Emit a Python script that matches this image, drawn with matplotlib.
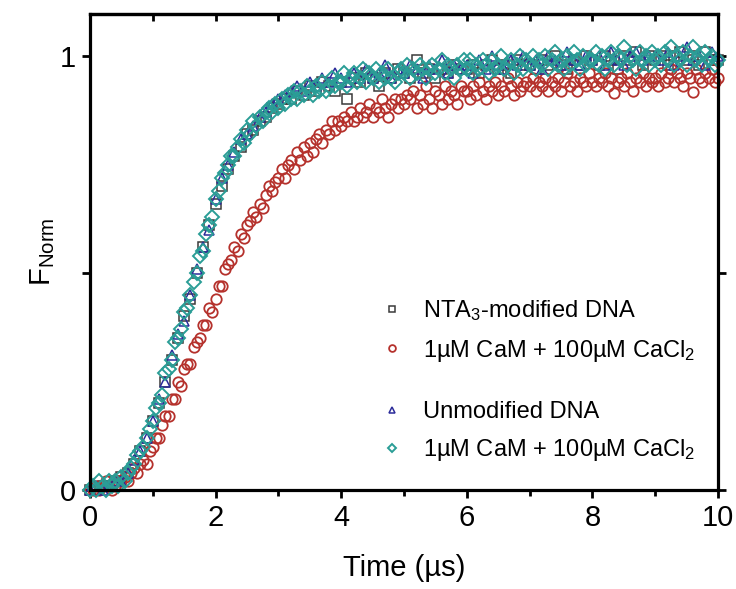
import numpy as np
import matplotlib
matplotlib.use('Agg')
import matplotlib.pyplot as plt

plt.rcParams['font.family'] = ['Liberation Sans', 'DejaVu Sans']
plt.rcParams['mathtext.fontset'] = 'custom'
plt.rcParams['mathtext.rm'] = 'Liberation Sans'
plt.rcParams['mathtext.it'] = 'Liberation Sans:italic'

# time axes (us), sampled every 0.05 / 0.1 us
t_fine = np.linspace(0, 10, 201)
t_coarse = np.linspace(0, 10, 101)

# NTA3-modified DNA + CaM (red circles)
nta_cam = [
    0.00, 0.00, 0.01, 0.00, 0.01, 0.02, 0.01, 0.00, 0.01, 0.02, 0.02, 0.03, 0.02, 0.04, 0.05, 0.04, 0.06, 0.07, 0.06, 0.09,
    0.10, 0.12, 0.12, 0.15, 0.17, 0.17, 0.21, 0.21, 0.25, 0.24, 0.28, 0.29, 0.29, 0.33, 0.34, 0.35, 0.38, 0.38, 0.42, 0.41,
    0.44, 0.47, 0.47, 0.51, 0.52, 0.53, 0.56, 0.55, 0.59, 0.58, 0.61, 0.62, 0.64, 0.63, 0.66, 0.65, 0.68, 0.70, 0.69, 0.71,
    0.72, 0.74, 0.72, 0.75, 0.76, 0.74, 0.78, 0.76, 0.79, 0.77, 0.80, 0.78, 0.81, 0.82, 0.80, 0.83, 0.82, 0.85, 0.83, 0.85,
    0.84, 0.86, 0.85, 0.87, 0.85, 0.86, 0.88, 0.86, 0.87, 0.89, 0.86, 0.88, 0.87, 0.90, 0.88, 0.86, 0.89, 0.90, 0.88, 0.90,
    0.89, 0.91, 0.90, 0.92, 0.88, 0.91, 0.89, 0.93, 0.90, 0.88, 0.92, 0.91, 0.89, 0.93, 0.90, 0.92, 0.91, 0.89, 0.93, 0.92,
    0.92, 0.90, 0.93, 0.91, 0.94, 0.92, 0.90, 0.93, 0.92, 0.94, 0.91, 0.93, 0.92, 0.95, 0.93, 0.91, 0.94, 0.92, 0.93, 0.94,
    0.93, 0.95, 0.92, 0.94, 0.93, 0.95, 0.92, 0.94, 0.93, 0.95, 0.92, 0.94, 0.96, 0.93, 0.94, 0.92, 0.95, 0.94, 0.93, 0.96,
    0.94, 0.93, 0.95, 0.94, 0.96, 0.93, 0.95, 0.915, 0.94, 0.95, 0.93, 0.96, 0.94, 0.92, 0.95, 0.94, 0.96, 0.93, 0.95, 0.94,
    0.95, 0.93, 0.96, 0.94, 0.95, 0.97, 0.94, 0.96, 0.95, 0.93, 0.96, 0.95, 0.917, 0.97, 0.95, 0.94, 0.96, 0.95, 0.97, 0.94,
    0.95,
]

# Unmodified DNA + CaM (cyan diamonds)
unmod_cam = [
    0.00, 0.01, 0.00, 0.02, 0.01, 0.00, 0.02, 0.01, 0.02, 0.01, 0.03, 0.02, 0.04, 0.05, 0.06, 0.08, 0.09, 0.10, 0.12, 0.14,
    0.16, 0.19, 0.20, 0.22, 0.27, 0.28, 0.30, 0.34, 0.35, 0.37, 0.41, 0.42, 0.45, 0.48, 0.50, 0.54, 0.55, 0.59, 0.61, 0.63,
    0.67, 0.69, 0.72, 0.73, 0.75, 0.77, 0.77, 0.79, 0.81, 0.80, 0.83, 0.82, 0.85, 0.84, 0.86, 0.85, 0.87, 0.88, 0.87, 0.89,
    0.88, 0.90, 0.89, 0.91, 0.90, 0.92, 0.90, 0.92, 0.91, 0.93, 0.92, 0.91, 0.93, 0.92, 0.94, 0.92, 0.93, 0.95, 0.93, 0.94,
    0.94, 0.96, 0.93, 0.95, 0.96, 0.94, 0.95, 0.97, 0.94, 0.96, 0.95, 0.97, 0.94, 0.96, 0.95, 0.97, 0.95, 0.94, 0.96, 0.97,
    0.96, 0.98, 0.95, 0.97, 0.96, 0.98, 0.97, 0.95, 0.97, 0.98, 0.96, 0.97, 0.99, 0.96, 0.98, 0.97, 0.95, 0.98, 0.97, 0.99,
    0.97, 0.99, 0.96, 0.98, 0.97, 0.99, 0.98, 0.96, 0.99, 0.97, 0.98, 1.00, 0.97, 0.98, 0.99, 0.96, 0.98, 1.00, 0.97, 0.99,
    0.98, 1.00, 0.97, 0.99, 0.98, 1.00, 0.97, 0.99, 1.01, 0.98, 0.99, 0.97, 1.00, 0.98, 1.01, 0.99, 0.97, 1.00, 0.98, 0.99,
    0.99, 1.01, 0.98, 1.00, 0.97, 0.99, 1.01, 0.98, 1.00, 0.99, 1.02, 0.98, 1.00, 0.99, 0.97, 1.01, 0.99, 1.00, 0.98, 1.01,
    0.99, 1.00, 0.98, 1.01, 0.99, 1.02, 0.98, 1.00, 0.99, 1.01, 0.98, 1.00, 1.02, 0.99, 1.00, 0.98, 1.01, 0.99, 1.00, 0.98,
    0.99,
]

# Unmodified DNA (blue triangles)
unmod = [
    0.00, 0.01, 0.00, 0.01, 0.02, 0.02, 0.04, 0.07, 0.09, 0.12,
    0.16, 0.21, 0.25, 0.31, 0.36, 0.39, 0.45, 0.51, 0.56, 0.60,
    0.67, 0.72, 0.75, 0.78, 0.81, 0.82, 0.84, 0.86, 0.87, 0.89,
    0.90, 0.91, 0.92, 0.93, 0.92, 0.94, 0.93, 0.95, 0.94, 0.96,
    0.95, 0.94, 0.96, 0.95, 0.97, 0.95, 0.96, 0.98, 0.95, 0.97,
    0.96, 0.98, 0.97, 0.95, 0.98, 0.97, 0.99, 0.96, 0.98, 0.97,
    0.98, 0.96, 0.99, 0.97, 1.00, 0.98, 0.97, 0.99, 0.98, 1.00,
    0.98, 0.99, 0.97, 1.00, 0.99, 0.98, 1.01, 0.99, 0.98, 1.00,
    0.99, 1.00, 0.98, 1.01, 0.99, 0.98, 1.00, 1.01, 0.99, 1.00,
    1.00, 0.99, 1.01, 0.98, 1.00, 1.02, 0.99, 1.00, 0.98, 1.01,
    1.00,
]

# NTA3-modified DNA (black squares)
nta = [
    0.00, 0.00, 0.01, 0.01, 0.02, 0.03, 0.04, 0.06, 0.09, 0.12,
    0.16, 0.20, 0.25, 0.30, 0.35, 0.40, 0.44, 0.50, 0.56, 0.61,
    0.66, 0.70, 0.74, 0.77, 0.79, 0.82, 0.83, 0.85, 0.86, 0.88,
    0.89, 0.90, 0.90, 0.92, 0.91, 0.93, 0.92, 0.94, 0.93, 0.92,
    0.94, 0.90, 0.95, 0.94, 0.96, 0.95, 0.93, 0.96, 0.95, 0.97,
    0.96, 0.95, 0.99, 0.96, 0.97, 0.95, 0.97, 0.96, 0.98, 0.97,
    0.97, 0.98, 0.96, 0.98, 0.99, 0.97, 0.98, 0.96, 0.99, 0.98,
    0.98, 0.97, 0.99, 0.98, 1.00, 0.98, 0.97, 0.99, 0.98, 1.00,
    0.99, 0.98, 1.00, 0.99, 0.97, 1.00, 0.99, 1.01, 0.98, 1.00,
    0.99, 1.00, 0.98, 1.00, 1.01, 0.99, 1.00, 0.98, 1.01, 0.99,
    0.99,
]

c_black = '#3a3a3a'
c_red = '#b5312c'
c_blue = '#2b2b9a'
c_cyan = '#2a9d96'

fig = plt.figure(figsize=(7.36, 5.89), dpi=100)
ax = fig.add_axes([90 / 736, 99 / 589, 628 / 736, 476 / 589])

sq, = ax.plot(t_coarse, nta, 's', ms=6.5, mfc='none', mec=c_black, mew=1.1, clip_on=False)
ci, = ax.plot(t_fine, nta_cam, 'o', ms=7.5, mfc='none', mec=c_red, mew=1.3, clip_on=False)
tr, = ax.plot(t_coarse, unmod, '^', ms=7.5, mfc='none', mec=c_blue, mew=1.1, clip_on=False)
di, = ax.plot(t_fine, unmod_cam, 'D', ms=7, mfc='none', mec=c_cyan, mew=1.4, clip_on=False)

ax.set_xlim(0, 10)
ax.set_ylim(0, 1.097)

ax.set_xticks([0, 2, 4, 6, 8, 10])
ax.set_xticks([1, 3, 5, 7, 9], minor=True)
ax.set_yticks([0, 0.5, 1])
ax.set_yticklabels(['0', '', '1'])
ax.tick_params(axis='both', which='major', direction='out', length=6, width=2,
               labelsize=21, pad=4)
ax.tick_params(axis='x', which='minor', direction='out', length=4, width=2)
ax.tick_params(axis='y', right=True, labelright=False)

# top ticks point inward
top = ax.secondary_xaxis('top')
top.set_xticks(np.arange(0, 11, 1))
top.tick_params(direction='in', length=5, width=2, labeltop=False)
top.spines['top'].set_linewidth(2.3)

for sp in ax.spines.values():
    sp.set_linewidth(2.3)

ax.set_xlabel('Time (µs)', fontsize=21, labelpad=16)
ax.set_ylabel(r'$\mathregular{F_{Norm}}$', fontsize=21, labelpad=2)

leg_kw = dict(loc='upper left', frameon=False, fontsize=17, markerscale=0.65,
              handletextpad=0.68, labelspacing=0.62, handlelength=1.2)
lg1 = ax.legend([sq, ci], [r'NTA$\mathregular{_3}$-modified DNA',
                           r'1µM CaM + 100µM CaCl$\mathregular{_2}$'],
                bbox_to_anchor=(0.425, 0.448), **leg_kw)
ax.add_artist(lg1)
ax.legend([tr, di], ['Unmodified DNA',
                     r'1µM CaM + 100µM CaCl$\mathregular{_2}$'],
          bbox_to_anchor=(0.425, 0.232), **leg_kw)

fig.savefig('out.png', dpi=100)
